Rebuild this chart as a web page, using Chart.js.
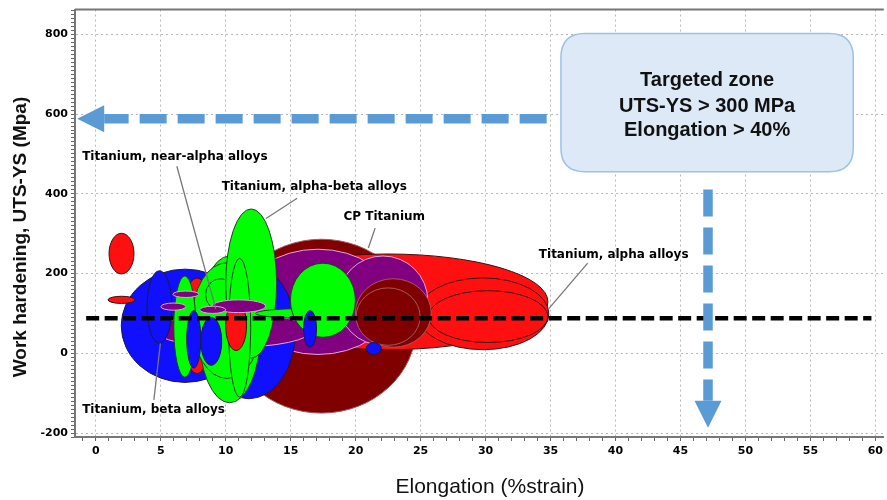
<!DOCTYPE html>
<html>
<head>
<meta charset="utf-8">
<script src="https://cdn.jsdelivr.net/npm/chart.js@4.4.0/dist/chart.umd.min.js"></script>
<style>
  html, body { margin: 0; padding: 0; background: #fff; }
  #wrap { width: 887px; height: 500px; }
</style>
</head>
<body>
<div id="wrap"><canvas id="chart" width="887" height="500"></canvas></div>
<script>
// material families (legend names as in the labels)
const families = [
  "CP Titanium",
  "Titanium, alpha alloys",
  "Titanium, alpha-beta alloys",
  "Titanium, near-alpha alloys",
  "Titanium, beta alloys",
];

// one entry per bubble, in drawing order (back to front)
const bubbleFamily = [0, 1, 3, 1, 1, 3, 0, 0, 4, 4, 3, 1, 4, 2, 2, 2, 2, 2, 2, 2, 2, 1, 4, 4, 4, 4, 1, 1, 3, 3, 3, 3];
// elongation (%strain): centre and half range
const elongMid  = [17.37, 22.5, 17.1, 29.8, 30.2, 22.1, 22.9, 22.5, 6.87, 11.77, 10.6, 7.79, 4.9, 10.3, 10.1, 9.6, 11.96, 16.0, 17.48, 6.85, 11.07, 10.8, 7.54, 8.89, 16.49, 21.4, 1.98, 1.98, 6.93, 5.97, 11.0, 9.0];
const elongHalf = [7.29, 12.3, 5.75, 5.07, 4.6, 3.45, 2.92, 2.46, 4.91, 3.6, 6.0, 1.15, 0.96, 2.4, 2.7, 1.15, 1.96, 3.7, 2.5, 0.85, 0.85, 0.8, 0.54, 0.8, 0.5, 0.58, 0.96, 1.04, 1.0, 0.96, 2.07, 1.0];
// work hardening UTS-YS (MPa): centre and half range
const hardMid   = [68, 129, 129, 99, 92, 132, 101, 92, 69, 55, 57, 69, 116, 60, 82, 147, 175, 100, 133, 67, 64, 69, 35, 30, 61, 12, 250, 134, 148, 117, 118, 109];
const hardHalf  = [218, 120, 132, 90, 65, 112, 86, 72, 142, 169, 42, 120, 91, 184, 145, 40, 187, 12, 93, 127, 174, 62, 72, 60, 46, 15, 51, 9, 8, 9, 16, 9];

// reference level line
const refLineX = [-0.74, 59.7];
const refLineY = [88, 88];

// axis ranges
const xMin = -1.6, xMax = 60.65;
const yMin = -210, yMax = 862;

const fills   = ["#800000", "#ff1010", "#00ff00", "#800080", "#1010ff"];
const strokes = ["#a05a5a", "#3a1010", "#2a3a2a", "#e0a6e0", "#1a1a3a"];

const familySets = families.map((name, f) => ({
  label: name,
  family: f,
  data: bubbleFamily
    .map((fam, i) => ({ fam, i }))
    .filter((b) => b.fam === f)
    .map(({ i }) => ({ x: elongMid[i], y: hardMid[i], rx: elongHalf[i], ry: hardHalf[i], k: i })),
  backgroundColor: fills[f],
  borderColor: strokes[f],
  pointRadius: 0,
}));

const ellipsePlugin = {
  id: "ellipses",
  beforeDatasetsDraw(chart) {
    const { ctx, chartArea, scales } = chart;
    const xs = scales.x, ys = scales.y;
    const items = [];
    chart.data.datasets.forEach((ds) => {
      if (ds.family === undefined) return;
      ds.data.forEach((p) => items.push({ p, ds }));
    });
    items.sort((a, b) => a.p.k - b.p.k);
    ctx.save();
    ctx.beginPath();
    ctx.rect(chartArea.left, chartArea.top, chartArea.right - chartArea.left, chartArea.bottom - chartArea.top);
    ctx.clip();
    items.forEach(({ p, ds }) => {
      const cx = xs.getPixelForValue(p.x);
      const cy = ys.getPixelForValue(p.y);
      const rx = Math.abs(xs.getPixelForValue(p.x + p.rx) - cx);
      const ry = Math.abs(ys.getPixelForValue(p.y + p.ry) - cy);
      ctx.beginPath();
      ctx.ellipse(cx, cy, rx, ry, 0, 0, Math.PI * 2);
      ctx.fillStyle = ds.backgroundColor;
      ctx.fill();
      ctx.lineWidth = 1;
      ctx.strokeStyle = ds.borderColor;
      ctx.stroke();
    });
    ctx.restore();
  },
};

// callouts: text anchor (left, middle) and leader line, in data units
const callouts = [
  { text: "Titanium, near-alpha alloys", x: -1.05, y: 493, from: [6.24, 469], to: [9.23, 112] },
  { text: "Titanium, alpha-beta alloys", x: 9.69, y: 418, from: [15.5, 389], to: [13.1, 338] },
  { text: "CP Titanium", x: 19.06, y: 343, from: [21.5, 314], to: [20.98, 264] },
  { text: "Titanium, alpha alloys", x: 34.1, y: 246, from: [37.86, 226], to: [34.87, 112] },
  { text: "Titanium, beta alloys", x: -1.05, y: -142, from: [4.47, -117], to: [4.97, 25] },
];

const arrowBlue = "#5b9bd5";

function drawArrow(ctx, x0, y0, x1, y1) {
  const dx = x1 - x0, dy = y1 - y0;
  const len = Math.hypot(dx, dy);
  const ux = dx / len, uy = dy / len;
  const head = 27, half = 13.5;
  const bx = x1 - ux * head, by = y1 - uy * head;
  ctx.save();
  ctx.strokeStyle = arrowBlue;
  ctx.lineWidth = 9.5;
  ctx.lineCap = "butt";
  ctx.setLineDash([27, 11]);
  ctx.beginPath();
  ctx.moveTo(x0, y0);
  ctx.lineTo(bx, by);
  ctx.stroke();
  ctx.setLineDash([]);
  ctx.fillStyle = arrowBlue;
  ctx.beginPath();
  ctx.moveTo(x1, y1);
  ctx.lineTo(bx - uy * half, by + ux * half);
  ctx.lineTo(bx + uy * half, by - ux * half);
  ctx.closePath();
  ctx.fill();
  ctx.restore();
}

function roundRect(ctx, x, y, w, h, r) {
  ctx.beginPath();
  ctx.moveTo(x + r, y);
  ctx.lineTo(x + w - r, y);
  ctx.quadraticCurveTo(x + w, y, x + w, y + r);
  ctx.lineTo(x + w, y + h - r);
  ctx.quadraticCurveTo(x + w, y + h, x + w - r, y + h);
  ctx.lineTo(x + r, y + h);
  ctx.quadraticCurveTo(x, y + h, x, y + h - r);
  ctx.lineTo(x, y + r);
  ctx.quadraticCurveTo(x, y, x + r, y);
  ctx.closePath();
}

const annotationPlugin = {
  id: "annotations",
  afterDatasetsDraw(chart) {
    const { ctx, chartArea, scales } = chart;
    const px = (v) => scales.x.getPixelForValue(v);
    const py = (v) => scales.y.getPixelForValue(v);

    // top frame line
    ctx.save();
    ctx.strokeStyle = "#777";
    ctx.lineWidth = 2;
    ctx.beginPath();
    ctx.moveTo(chartArea.left, chartArea.top);
    ctx.lineTo(chartArea.right, chartArea.top);
    ctx.stroke();

    // callouts
    ctx.strokeStyle = "#777";
    ctx.lineWidth = 1.3;
    ctx.font = "bold 12px 'DejaVu Sans', sans-serif";
    ctx.fillStyle = "#000";
    ctx.textBaseline = "middle";
    ctx.textAlign = "left";
    callouts.forEach((c) => {
      ctx.beginPath();
      ctx.moveTo(px(c.from[0]), py(c.from[1]));
      ctx.lineTo(px(c.to[0]), py(c.to[1]));
      ctx.stroke();
      ctx.fillText(c.text, px(c.x), py(c.y));
    });
    ctx.restore();

    // arrows
    drawArrow(ctx, px(34.7), py(588), px(-1.43), py(588));
    drawArrow(ctx, px(47.12), py(411), px(47.12), py(-187));

    // targeted zone box
    const bx0 = px(35.8), bx1 = px(58.3), by0 = py(802), by1 = py(455.5);
    ctx.save();
    roundRect(ctx, bx0, by0, bx1 - bx0, by1 - by0, 24);
    ctx.fillStyle = "#dde9f6";
    ctx.fill();
    ctx.strokeStyle = "#9cc2e5";
    ctx.lineWidth = 1.5;
    ctx.stroke();
    ctx.fillStyle = "#111";
    ctx.font = "bold 20px 'Liberation Sans', Arial, sans-serif";
    ctx.textAlign = "center";
    ctx.textBaseline = "middle";
    const tx = (bx0 + bx1) / 2;
    ctx.fillText("Targeted zone", tx, py(684));
    ctx.fillText("UTS-YS > 300 MPa", tx, py(620));
    ctx.fillText("Elongation > 40%", tx, py(558));
    ctx.restore();
  },
  afterDraw(chart) {
    const { ctx } = chart;
    ctx.save();
    ctx.fillStyle = "#111";
    ctx.textAlign = "center";
    ctx.textBaseline = "middle";
    ctx.font = "21px 'Liberation Sans', Arial, sans-serif";
    ctx.fillText("Elongation (%strain)", 490, 487);
    ctx.translate(21, 237);
    ctx.rotate(-Math.PI / 2);
    ctx.font = "bold 19px 'Liberation Sans', Arial, sans-serif";
    ctx.fillText("Work hardening, UTS-YS (Mpa)", 0, 0);
    ctx.restore();
  },
};

const tickFont = { family: "'DejaVu Sans', sans-serif", size: 11, weight: "bold" };

new Chart(document.getElementById("chart").getContext("2d"), {
  type: "scatter",
  data: {
    datasets: [
      ...familySets,
      {
        type: "line",
        label: "reference",
        data: refLineX.map((x, i) => ({ x, y: refLineY[i] })),
        borderColor: "#000",
        borderWidth: 4.5,
        borderDash: [13, 5.5],
        pointRadius: 0,
        fill: false,
      },
    ],
  },
  options: {
    responsive: false,
    animation: false,
    events: [],
    layout: { padding: { top: 7, right: 0, left: 0, bottom: 0 } },
    plugins: { legend: { display: false }, tooltip: { enabled: false } },
    scales: {
      x: {
        type: "linear",
        min: xMin,
        max: xMax,
        afterFit: (s) => { s.height = 63; },
        ticks: {
          stepSize: 1,
          includeBounds: false,
          autoSkip: false,
          maxRotation: 0,
          padding: 4,
          color: "#000",
          font: tickFont,
          callback: (v) => (Math.abs(v % 5) < 1e-9 ? v : ""),
        },
        grid: {
          color: (c) => (c.tick && Math.abs(c.tick.value % 5) < 1e-9 ? "#b8b8b8" : "rgba(0,0,0,0)"),
          lineWidth: 1,
          tickColor: "#666",
          tickLength: 4,
          tickWidth: 1,
        },
        border: { display: true, color: "#777", width: 2, dash: [2, 3] },
      },
      y: {
        type: "linear",
        min: yMin,
        max: yMax,
        afterFit: (s) => { s.width = 75; },
        ticks: {
          stepSize: 10,
          includeBounds: false,
          autoSkip: false,
          padding: 3,
          color: "#000",
          font: tickFont,
          callback: (v) => (Math.abs(v % 200) < 1e-9 ? v : ""),
        },
        grid: {
          color: (c) => (c.tick && Math.abs(c.tick.value % 200) < 1e-9 ? "#b8b8b8" : "rgba(0,0,0,0)"),
          lineWidth: 1,
          tickColor: "#666",
          tickLength: 4,
          tickWidth: 1,
        },
        border: { display: true, color: "#777", width: 2, dash: [2, 3] },
      },
    },
  },
  plugins: [ellipsePlugin, annotationPlugin],
});
</script>
</body>
</html>
